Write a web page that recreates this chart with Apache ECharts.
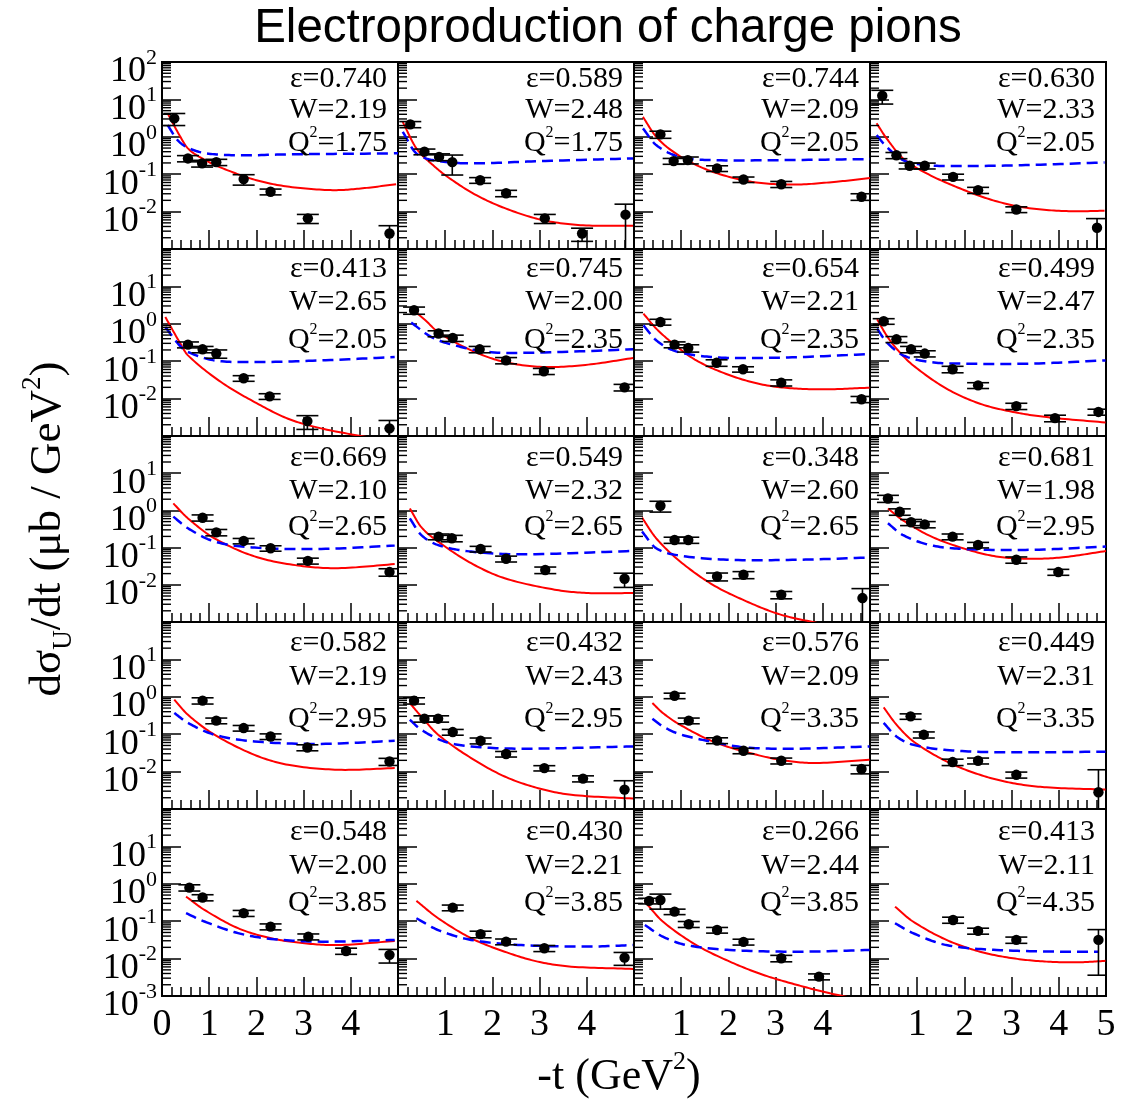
<!DOCTYPE html>
<html>
<head>
<meta charset="utf-8">
<script src="https://cdn.jsdelivr.net/npm/echarts@6/dist/echarts.min.js"></script>
<style>
  html, body { margin: 0; padding: 0; background: #fff; }
  #chart { width: 1122px; height: 1101px; }
</style>
</head>
<body>
<div id="chart"></div>
<script>
// Kinematic settings of the 20 bins (row by row, left to right)
const epsLabels = ['0.740','0.589','0.744','0.630','0.413','0.745','0.654','0.499','0.669','0.549',
                   '0.348','0.681','0.582','0.432','0.576','0.449','0.548','0.430','0.266','0.413'];
const wLabels   = ['2.19','2.48','2.09','2.33','2.65','2.00','2.21','2.47','2.10','2.32',
                   '2.60','1.98','2.19','2.43','2.09','2.31','2.00','2.21','2.44','2.11'];
const q2Labels  = ['1.75','1.75','2.05','2.05','2.05','2.35','2.35','2.35','2.65','2.65',
                   '2.65','2.95','2.95','2.95','3.35','3.35','3.85','3.85','3.85','4.35'];

// Measured -t (GeV^2) per bin
const tVals = [
  [0.26, 0.55, 0.85, 1.15, 1.73, 2.30, 3.09, 4.82],
  [0.26, 0.56, 0.87, 1.15, 1.74, 2.29, 3.11, 3.90, 4.82],
  [0.56, 0.84, 1.14, 1.76, 2.32, 3.12, 4.82],
  [0.26, 0.56, 0.84, 1.16, 1.76, 2.29, 3.10, 4.81],
  [0.55, 0.86, 1.15, 1.73, 2.28, 3.08, 4.82],
  [0.34, 0.86, 1.16, 1.73, 2.29, 3.09, 4.80],
  [0.56, 0.86, 1.15, 1.75, 2.31, 3.12, 4.82],
  [0.29, 0.56, 0.87, 1.16, 1.75, 2.29, 3.10, 3.92, 4.84],
  [0.86, 1.15, 1.73, 2.30, 3.09, 4.82],
  [0.86, 1.14, 1.75, 2.29, 3.12, 4.80],
  [0.56, 0.86, 1.15, 1.76, 2.32, 3.12, 4.84],
  [0.38, 0.63, 0.87, 1.16, 1.75, 2.29, 3.10, 3.99],
  [0.86, 1.15, 1.73, 2.30, 3.08, 4.82],
  [0.34, 0.56, 0.85, 1.16, 1.75, 2.29, 3.10, 3.92, 4.80],
  [0.86, 1.16, 1.76, 2.32, 3.12, 4.82],
  [0.86, 1.14, 1.75, 2.29, 3.10, 4.84],
  [0.58, 0.86, 1.73, 2.30, 3.10, 3.90, 4.82],
  [1.16, 1.75, 2.29, 3.10, 4.80],
  [0.32, 0.56, 0.86, 1.16, 1.76, 2.32, 3.12, 3.92],
  [1.76, 2.29, 3.10, 4.84]
];
// Measured dsigma_U/dt (ub/GeV^2)
const sigVals = [
  [3.1, 0.264, 0.195, 0.21, 0.074, 0.034, 0.0066, 0.0026],
  [2.15, 0.40, 0.29, 0.21, 0.069, 0.031, 0.0066, 0.0026, 0.0083],
  [1.16, 0.224, 0.238, 0.143, 0.072, 0.054, 0.025],
  [12.5, 0.32, 0.168, 0.168, 0.085, 0.0375, 0.0114, 0.0037],
  [0.277, 0.208, 0.16, 0.035, 0.0115, 0.0025, 0.0016],
  [2.3, 0.55, 0.417, 0.208, 0.105, 0.054, 0.020],
  [1.12, 0.278, 0.225, 0.091, 0.061, 0.0267, 0.0096],
  [1.17, 0.385, 0.208, 0.16, 0.061, 0.0226, 0.0063, 0.003, 0.0044],
  [0.636, 0.257, 0.151, 0.096, 0.044, 0.022],
  [0.197, 0.178, 0.092, 0.050, 0.025, 0.0145],
  [1.33, 0.16, 0.16, 0.0167, 0.0186, 0.0054, 0.0044],
  [2.09, 0.92, 0.48, 0.42, 0.197, 0.118, 0.047, 0.022],
  [0.79, 0.23, 0.146, 0.087, 0.044, 0.0186],
  [0.79, 0.26, 0.26, 0.114, 0.067, 0.0295, 0.0124, 0.0065, 0.0033],
  [1.07, 0.23, 0.068, 0.036, 0.0195, 0.0117],
  [0.30, 0.097, 0.018, 0.0195, 0.0082, 0.0028],
  [0.79, 0.43, 0.164, 0.0716, 0.0386, 0.016, 0.0126],
  [0.23, 0.045, 0.0284, 0.0189, 0.0106],
  [0.35, 0.37, 0.18, 0.083, 0.058, 0.028, 0.0102, 0.0033],
  [0.108, 0.055, 0.0316, 0.0316]
];
// Statistical uncertainties
const sigErrs = [
  [1.1, 0.05, 0.04, 0.04, 0.023, 0.006, 0.0018, 0.0016],
  [0.4, 0.07, 0.06, 0.115, 0.012, 0.006, 0.0018, 0.001, 0.0075],
  [0.25, 0.04, 0.05, 0.025, 0.012, 0.01, 0.005],
  [5, 0.06, 0.03, 0.03, 0.015, 0.007, 0.002, 0.0028],
  [0.05, 0.04, 0.04, 0.006, 0.002, 0.001, 0.001],
  [0.5, 0.1, 0.08, 0.04, 0.02, 0.01, 0.004],
  [0.2, 0.05, 0.05, 0.018, 0.01, 0.005, 0.0018],
  [0.2, 0.07, 0.04, 0.03, 0.012, 0.004, 0.0012, 0.0006, 0.0008],
  [0.12, 0.05, 0.025, 0.016, 0.008, 0.005],
  [0.035, 0.035, 0.016, 0.009, 0.005, 0.006],
  [0.43, 0.03, 0.03, 0.004, 0.004, 0.0012, 0.0035],
  [0.45, 0.18, 0.09, 0.08, 0.035, 0.02, 0.009, 0.004],
  [0.15, 0.04, 0.025, 0.015, 0.008, 0.004],
  [0.15, 0.05, 0.05, 0.02, 0.012, 0.005, 0.002, 0.0012, 0.0024],
  [0.18, 0.04, 0.012, 0.006, 0.0035, 0.003],
  [0.05, 0.018, 0.0035, 0.0035, 0.0015, 0.0084],
  [0.15, 0.08, 0.03, 0.013, 0.007, 0.003, 0.005],
  [0.04, 0.009, 0.005, 0.0035, 0.004],
  [0.06, 0.16, 0.03, 0.015, 0.01, 0.005, 0.002, 0.0006],
  [0.02, 0.01, 0.006, 0.028]
];

// Model curve 1 (red, solid)
const redT = [
  [0.12, 0.37, 0.55, 0.86, 1.29, 2.0, 2.7, 3.62, 4.25, 4.96],
  [0.10, 0.39, 0.74, 1.09, 1.66, 2.29, 3.07, 3.92, 4.98],
  [0.19, 0.47, 0.83, 1.32, 1.89, 2.59, 3.44, 4.29, 5.0],
  [0.14, 0.35, 0.70, 1.20, 1.90, 2.61, 3.32, 4.16, 4.97],
  [0.07, 0.37, 0.55, 1.25, 1.96, 2.67, 3.37, 4.36, 5.0],
  [0.28, 0.58, 0.85, 1.55, 2.26, 3.11, 4.03, 4.98],
  [0.2, 0.47, 0.83, 1.32, 2.03, 2.73, 3.44, 4.15, 4.99],
  [0.15, 0.35, 0.56, 0.91, 1.62, 2.33, 3.03, 3.74, 4.99],
  [0.24, 0.55, 1.11, 1.96, 2.88, 3.73, 4.93],
  [0.25, 0.49, 0.85, 1.55, 2.26, 3.32, 4.03, 4.98],
  [0.17, 0.47, 0.97, 1.67, 2.38, 3.09, 3.86, 4.1],
  [0.38, 0.69, 1.26, 1.97, 2.67, 3.38, 4.09, 5.0],
  [0.26, 0.55, 1.11, 1.96, 2.67, 3.73, 4.93],
  [0.25, 0.49, 0.85, 1.55, 2.26, 2.97, 3.67, 4.98],
  [0.39, 0.61, 0.97, 1.67, 2.38, 3.09, 3.79, 4.99],
  [0.29, 0.56, 0.92, 1.62, 2.33, 3.03, 3.74, 4.99],
  [0.51, 0.90, 1.61, 2.31, 3.02, 3.73, 4.93],
  [0.39, 0.85, 1.55, 2.26, 2.96, 3.67, 4.98],
  [0.23, 0.61, 1.32, 2.03, 2.73, 3.44, 4.15, 4.6],
  [0.53, 0.91, 1.62, 2.33, 3.03, 3.74, 4.45, 4.99]
];
const redV = [
  [4.2, 1.1, 0.49, 0.26, 0.143, 0.069, 0.046, 0.0375, 0.042, 0.054],
  [2.5, 0.49, 0.175, 0.078, 0.0275, 0.012, 0.0059, 0.0043, 0.0042],
  [3.4, 1.0, 0.40, 0.175, 0.094, 0.060, 0.053, 0.063, 0.079],
  [2.3, 0.91, 0.264, 0.105, 0.042, 0.020, 0.0126, 0.0103, 0.0105],
  [1.52, 0.326, 0.143, 0.0277, 0.0081, 0.0029, 0.0016, 0.00093, 0.0007],
  [2.57, 1.24, 0.60, 0.195, 0.095, 0.070, 0.081, 0.122],
  [1.87, 0.745, 0.295, 0.105, 0.042, 0.0236, 0.0185, 0.0178, 0.0196],
  [1.32, 0.49, 0.217, 0.078, 0.0185, 0.0073, 0.0044, 0.0032, 0.0023],
  [1.54, 0.61, 0.178, 0.058, 0.033, 0.028, 0.036],
  [1.13, 0.36, 0.145, 0.038, 0.015, 0.0074, 0.006, 0.006],
  [0.64, 0.178, 0.043, 0.010, 0.0036, 0.0016, 0.00095, 0.0008],
  [1.13, 0.55, 0.209, 0.096, 0.058, 0.050, 0.055, 0.081],
  [0.84, 0.33, 0.097, 0.028, 0.0152, 0.0112, 0.0124],
  [0.68, 0.30, 0.097, 0.023, 0.0074, 0.0036, 0.0024, 0.0019],
  [0.68, 0.37, 0.18, 0.064, 0.0333, 0.0207, 0.017, 0.0207],
  [0.52, 0.18, 0.064, 0.0187, 0.0082, 0.0049, 0.0038, 0.0033],
  [0.455, 0.20, 0.065, 0.035, 0.0257, 0.023, 0.0296],
  [0.35, 0.12, 0.035, 0.0153, 0.0083, 0.0061, 0.0053],
  [0.334, 0.098, 0.023, 0.0083, 0.0037, 0.002, 0.00118, 0.0009],
  [0.245, 0.098, 0.0316, 0.0153, 0.0102, 0.0083, 0.008, 0.0087]
];

// Model curve 2 (blue, dashed)
const blueT = [
  [0.12, 0.33, 0.58, 0.94, 1.64, 2.7, 4.82, 5.0],
  [0.10, 0.39, 0.88, 1.59, 3.0, 4.98],
  [0.19, 0.47, 0.97, 1.67, 3.1, 5.0],
  [0.14, 0.35, 0.70, 1.20, 1.90, 3.3, 4.97],
  [0.07, 0.37, 0.55, 1.11, 1.96, 3.37, 4.93],
  [0.28, 0.71, 1.2, 1.91, 2.97, 4.98],
  [0.2, 0.47, 0.83, 1.32, 2.03, 3.44, 4.99],
  [0.15, 0.35, 0.70, 1.27, 1.97, 3.38, 4.99],
  [0.24, 0.55, 1.11, 1.96, 3.37, 4.93],
  [0.25, 0.49, 0.85, 1.55, 2.62, 4.98],
  [0.17, 0.47, 0.97, 2.03, 3.44, 4.99],
  [0.38, 0.69, 1.26, 1.97, 3.38, 5.0],
  [0.26, 0.55, 1.11, 1.96, 3.37, 4.93],
  [0.25, 0.49, 0.98, 1.55, 2.61, 4.98],
  [0.39, 0.61, 0.97, 1.67, 2.38, 3.44, 4.99],
  [0.29, 0.56, 0.92, 1.62, 2.68, 4.99],
  [0.51, 0.90, 1.61, 2.31, 3.37, 4.93],
  [0.39, 0.85, 1.55, 2.61, 4.03, 4.98],
  [0.23, 0.61, 1.11, 2.03, 3.44, 4.99],
  [0.53, 0.91, 1.62, 2.68, 4.09, 4.84]
];
const blueV = [
  [2.06, 0.81, 0.49, 0.36, 0.32, 0.34, 0.36, 0.365],
  [1.36, 0.36, 0.224, 0.195, 0.224, 0.264],
  [1.68, 0.60, 0.29, 0.238, 0.238, 0.254],
  [1.11, 0.54, 0.238, 0.175, 0.165, 0.175, 0.206],
  [0.82, 0.266, 0.176, 0.105, 0.095, 0.105, 0.129],
  [1.08, 0.44, 0.266, 0.176, 0.17, 0.208],
  [0.91, 0.363, 0.195, 0.143, 0.122, 0.128, 0.155],
  [0.745, 0.326, 0.144, 0.095, 0.086, 0.086, 0.105],
  [0.68, 0.33, 0.146, 0.10, 0.092, 0.113],
  [0.61, 0.22, 0.117, 0.078, 0.066, 0.081],
  [0.27, 0.096, 0.061, 0.047, 0.047, 0.054],
  [0.45, 0.22, 0.118, 0.092, 0.087, 0.107],
  [0.37, 0.20, 0.097, 0.064, 0.055, 0.067],
  [0.244, 0.132, 0.064, 0.047, 0.041, 0.047],
  [0.26, 0.162, 0.10, 0.062, 0.044, 0.041, 0.047],
  [0.20, 0.087, 0.052, 0.038, 0.033, 0.034],
  [0.164, 0.098, 0.048, 0.0336, 0.0284, 0.0316],
  [0.12, 0.058, 0.0316, 0.023, 0.021, 0.023],
  [0.079, 0.0386, 0.023, 0.017, 0.0153, 0.017],
  [0.088, 0.048, 0.023, 0.017, 0.0153, 0.0153]
];

// Axis ranges and tick labels
const tRange = [0, 5];
const sigRange = [0.001, 100];
const tTickLabels = ['0', '1', '2', '3', '4', '5'];

// ---- page layout (pixels) ----
const colEdges = [162, 398, 634, 870, 1106];
const rowEdges = [62, 249, 436, 622, 809, 996];
const annotOffsets = [[17, 48, 81], [20, 53, 91], [22, 55, 91], [21, 55, 97], [23, 57, 94]];
const SERIF = '"Liberation Serif", "Times New Roman", serif';
const SANS = '"Liberation Sans", Arial, sans-serif';
const NROWS = 5, NCOLS = 4;

function zip(a, b) { return a.map((x, j) => [x, b[j]]); }

// Cubic Hermite curve through pixel points (tangents from neighbouring points)
function hermite(pts, samples) {
  const n = pts.length;
  if (n < 2) return pts;
  const m = [];
  for (let k = 0; k < n; k++) {
    const a = pts[Math.max(0, k - 1)], b = pts[Math.min(n - 1, k + 1)];
    m.push((b[1] - a[1]) / (b[0] - a[0]));
  }
  const out = [];
  for (let k = 0; k < n - 1; k++) {
    const x0 = pts[k][0], y0 = pts[k][1], x1 = pts[k + 1][0], y1 = pts[k + 1][1];
    const h = x1 - x0;
    for (let s = 0; s < samples; s++) {
      const u = s / samples, u2 = u * u, u3 = u2 * u;
      const h00 = 2 * u3 - 3 * u2 + 1, h10 = u3 - 2 * u2 + u, h01 = -2 * u3 + 3 * u2, h11 = u3 - u2;
      out.push([x0 + u * h, h00 * y0 + h10 * h * m[k] + h01 * y1 + h11 * h * m[k + 1]]);
    }
  }
  out.push(pts[n - 1]);
  return out;
}

function curveRenderer(tArr, vArr, lineStyle) {
  return function (params, api) {
    if (params.dataIndex !== 0) return null;
    const pts = tArr.map((t, j) => api.coord([t, vArr[j]]));
    return { type: 'polyline', shape: { points: hermite(pts, 16) },
             style: Object.assign({ fill: null }, lineStyle) };
  };
}

function renderPoint(params, api) {
  const t = api.value(0), v = api.value(1), e = api.value(2);
  const c = api.coord([t, v]);
  const hi = api.coord([t, v + e]);
  const lo = api.coord([t, v - e > 0 ? v - e : 1e-6]);
  const cap = 11;
  const ls = { stroke: '#000', lineWidth: 1.6 };
  return {
    type: 'group',
    children: [
      { type: 'line', shape: { x1: c[0], y1: hi[1], x2: c[0], y2: lo[1] }, style: ls },
      { type: 'line', shape: { x1: c[0] - cap, y1: hi[1], x2: c[0] + cap, y2: hi[1] }, style: ls },
      { type: 'line', shape: { x1: c[0] - cap, y1: lo[1], x2: c[0] + cap, y2: lo[1] }, style: ls },
      { type: 'circle', shape: { cx: c[0], cy: c[1], r: 5.2 }, style: { fill: '#000' } }
    ]
  };
}

// log-axis minor ticks at 2..9 x 10^k, pointing into the panel
function renderMinorTicks(params, api) {
  const children = [];
  const kMin = Math.round(Math.log10(sigRange[0]));
  const kMax = Math.round(Math.log10(sigRange[1]));
  for (let k = kMin; k < kMax; k++) {
    for (let m = 2; m <= 9; m++) {
      const p = api.coord([tRange[0], m * Math.pow(10, k)]);
      children.push({ type: 'line', shape: { x1: p[0], y1: p[1], x2: p[0] + 9, y2: p[1] },
                      style: { stroke: '#000', lineWidth: 1.4 } });
    }
  }
  return { type: 'group', children };
}

// power-of-ten label, e.g. 10^-2
function powLabel(v) {
  const k = Math.round(Math.log10(v));
  return '{b|10}{s|' + (k < 0 ? '-' + (-k) : String(k)) + '}';
}
const powRich = {
  b: { fontFamily: SERIF, fontSize: 36, lineHeight: 50, color: '#000' },
  s: { fontFamily: SERIF, fontSize: 22, lineHeight: 22, verticalAlign: 'top', color: '#000' }
};
const kTop = Math.round(Math.log10(sigRange[1]));
const kBottom = Math.round(Math.log10(sigRange[0]));

const grids = [], xAxes = [], yAxes = [], series = [], graphics = [];

for (let i = 0; i < NROWS * NCOLS; i++) {
  const r = Math.floor(i / NCOLS), c = i % NCOLS;
  const left = colEdges[c], right = colEdges[c + 1];
  const top = rowEdges[r], bottom = rowEdges[r + 1];

  grids.push({ left: left, top: top, width: right - left, height: bottom - top,
               show: true, borderColor: '#000', borderWidth: 2, backgroundColor: 'rgba(0,0,0,0)' });

  xAxes.push({
    gridIndex: i, type: 'value', min: tRange[0], max: tRange[1], interval: 1,
    axisLine: { show: true, lineStyle: { color: '#000', width: 2 } },
    axisTick: { show: true, inside: true, length: 19, lineStyle: { color: '#000', width: 1.5 } },
    minorTick: { show: true, splitNumber: 5, length: 9, lineStyle: { color: '#000', width: 1.5 } },
    splitLine: { show: false }, minorSplitLine: { show: false },
    axisLabel: {
      show: r === NROWS - 1, interval: 0, showMinLabel: true, showMaxLabel: true, hideOverlap: false,
      fontFamily: SERIF, fontSize: 38, color: '#000', margin: 10,
      formatter: function (v) {
        const k = Math.round(v);
        if (k === 0 && c !== 0) return '';
        if (k === 5 && c !== NCOLS - 1) return '';
        return tTickLabels[k];
      }
    }
  });

  const yIndex = yAxes.length;
  // main log axis: ticks and the inner decade labels
  yAxes.push({
    gridIndex: i, type: 'log', logBase: 10, min: sigRange[0], max: sigRange[1],
    axisLine: { show: true, lineStyle: { color: '#000', width: 2 } },
    axisTick: { show: true, inside: true, length: 19, lineStyle: { color: '#000', width: 1.5 } },
    minorTick: { show: false },
    splitLine: { show: false }, minorSplitLine: { show: false },
    axisLabel: {
      show: c === 0, interval: 0, showMinLabel: false, showMaxLabel: false, hideOverlap: false,
      margin: 5, padding: [20, 0, 0, 0],
      formatter: function (v) {
        const k = Math.round(Math.log10(v));
        if (k === kTop || k === kBottom) return '';
        return powLabel(v);
      },
      rich: powRich
    }
  });
  // companion axis carrying the end label of the outer rows (10^2 on top, 10^-3 at the bottom)
  if (c === 0 && (r === 0 || r === NROWS - 1)) {
    const kEnd = r === 0 ? kTop : kBottom;
    yAxes.push({
      gridIndex: i, type: 'log', logBase: 10, min: sigRange[0], max: sigRange[1], position: 'left',
      axisLine: { show: false }, axisTick: { show: false }, minorTick: { show: false },
      splitLine: { show: false },
      axisLabel: {
        show: true, interval: 0, showMinLabel: r !== 0, showMaxLabel: r === 0, hideOverlap: false,
        margin: 5, padding: [20, 0, 0, 0],
        formatter: function (v) {
          return Math.round(Math.log10(v)) === kEnd ? powLabel(v) : '';
        },
        rich: powRich
      }
    });
  }

  series.push({
    type: 'custom', xAxisIndex: i, yAxisIndex: yIndex, clip: true, silent: true, z: 3,
    data: zip(redT[i], redV[i]), encode: { x: 0, y: 1 },
    renderItem: curveRenderer(redT[i], redV[i], { stroke: '#ff0000', lineWidth: 2 })
  });
  series.push({
    type: 'custom', xAxisIndex: i, yAxisIndex: yIndex, clip: true, silent: true, z: 3,
    data: zip(blueT[i], blueV[i]), encode: { x: 0, y: 1 },
    renderItem: curveRenderer(blueT[i], blueV[i], { stroke: '#0000ff', lineWidth: 2.5, lineDash: [11, 6] })
  });
  series.push({
    type: 'custom', xAxisIndex: i, yAxisIndex: yIndex, clip: true, silent: true, z: 4,
    data: tVals[i].map((t, j) => [t, sigVals[i][j], sigErrs[i][j]]),
    encode: { x: 0, y: 1 },
    renderItem: renderPoint
  });
  series.push({
    type: 'custom', xAxisIndex: i, yAxisIndex: yIndex, silent: true, z: 5,
    data: [[tRange[0], 1]], encode: { x: 0, y: 1 },
    renderItem: renderMinorTicks
  });

  // bin annotation in the upper right corner
  const ax = right - 11;
  const off = annotOffsets[r];
  const annRich = {
    t: { fontFamily: SERIF, fontSize: 30, lineHeight: 36, color: '#000' },
    s: { fontFamily: SERIF, fontSize: 16, lineHeight: 16, verticalAlign: 'top', color: '#000' }
  };
  const lines = ['{t|ε=' + epsLabels[i] + '}', '{t|W=' + wLabels[i] + '}', '{t|Q}{s|2}{t|=' + q2Labels[i] + '}'];
  lines.forEach((txt, j) => {
    graphics.push({
      type: 'text', x: ax, y: top + off[j], silent: true, z: 10,
      style: { text: txt, rich: annRich, fill: '#000', fontFamily: SERIF, fontSize: 30,
               align: 'right', textAlign: 'right', verticalAlign: 'middle', textVerticalAlign: 'middle' }
    });
  });
}

// Title and axis titles
graphics.push({
  type: 'text', x: 608, y: 29, silent: true,
  style: { text: 'Electroproduction of charge pions', fill: '#000', fontFamily: SANS, fontSize: 47.5,
           align: 'center', textAlign: 'center', verticalAlign: 'middle', textVerticalAlign: 'middle' }
});
graphics.push({
  type: 'text', x: 619, y: 1077, silent: true,
  style: {
    text: '{t|-t (GeV}{s|2}{t|)}', fill: '#000', fontFamily: SERIF, fontSize: 44,
    align: 'center', textAlign: 'center', verticalAlign: 'middle', textVerticalAlign: 'middle',
    rich: {
      t: { fontFamily: SERIF, fontSize: 44, lineHeight: 56, color: '#000' },
      s: { fontFamily: SERIF, fontSize: 26, lineHeight: 26, verticalAlign: 'top', color: '#000' }
    }
  }
});
graphics.push({
  type: 'text', x: 48, y: 529, rotation: Math.PI / 2, silent: true,
  style: {
    text: '{t|dσ}{u|U}{t|/dt (μb / GeV}{s|2}{t|)}', fill: '#000', fontFamily: SERIF, fontSize: 45,
    align: 'center', textAlign: 'center', verticalAlign: 'middle', textVerticalAlign: 'middle',
    rich: {
      t: { fontFamily: SERIF, fontSize: 45, lineHeight: 58, color: '#000' },
      u: { fontFamily: SERIF, fontSize: 27, lineHeight: 27, verticalAlign: 'bottom', color: '#000' },
      s: { fontFamily: SERIF, fontSize: 27, lineHeight: 27, verticalAlign: 'top', color: '#000' }
    }
  }
});

const chart = echarts.init(document.getElementById('chart'), null, { renderer: 'canvas' });
chart.setOption({
  animation: false,
  backgroundColor: '#fff',
  grid: grids,
  xAxis: xAxes,
  yAxis: yAxes,
  series: series,
  graphic: graphics
});
</script>
</body>
</html>
